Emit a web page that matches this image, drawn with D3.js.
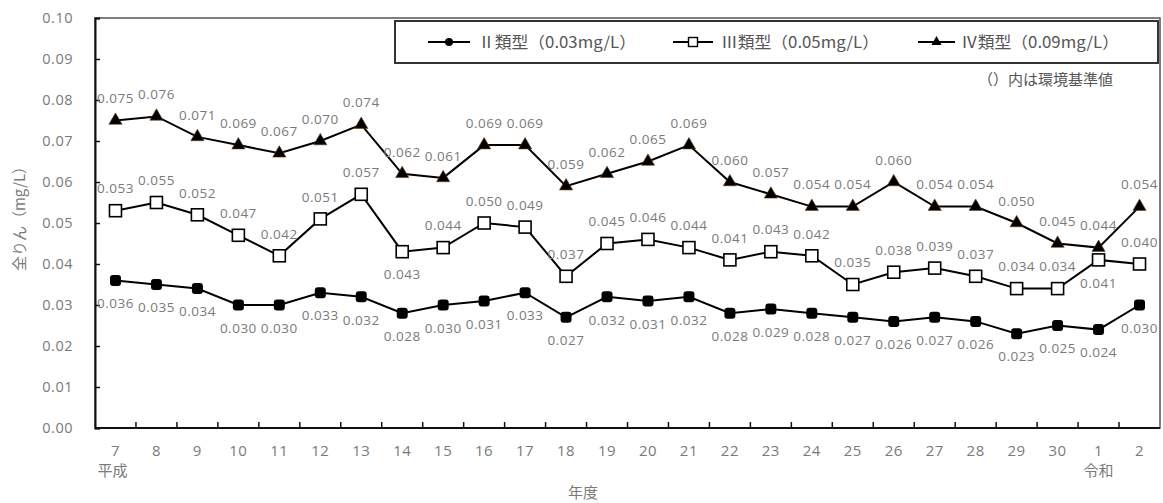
<!DOCTYPE html>
<html>
<head>
<meta charset="utf-8">
<script src="https://cdn.jsdelivr.net/npm/d3@7"></script>
<style>
  body { margin: 0; background: #fff; }
  text { font-family: "Noto Sans CJK JP", "Noto Sans", sans-serif; }
  .num { font-family: "Open Sans", "Noto Sans", sans-serif; letter-spacing: 0.5px; }
</style>
</head>
<body>
<div id="chart"></div>
<script>
// 年度 (平成7 ... 平成30, 令和1, 2)
var years = ["7","8","9","10","11","12","13","14","15","16","17","18","19","20",
             "21","22","23","24","25","26","27","28","29","30","1","2"];

var typeII  = [0.036,0.035,0.034,0.030,0.030,0.033,0.032,0.028,0.030,0.031,0.033,0.027,0.032,
               0.031,0.032,0.028,0.029,0.028,0.027,0.026,0.027,0.026,0.023,0.025,0.024,0.030];
var typeIII = [0.053,0.055,0.052,0.047,0.042,0.051,0.057,0.043,0.044,0.050,0.049,0.037,0.045,
               0.046,0.044,0.041,0.043,0.042,0.035,0.038,0.039,0.037,0.034,0.034,0.041,0.040];
var typeIV  = [0.075,0.076,0.071,0.069,0.067,0.070,0.074,0.062,0.061,0.069,0.069,0.059,0.062,
               0.065,0.069,0.060,0.057,0.054,0.054,0.060,0.054,0.054,0.050,0.045,0.044,0.054];

var seriesNames = ["Ⅱ類型（0.03mg/L）", "Ⅲ類型（0.05mg/L）", "Ⅳ類型（0.09mg/L）"];
var yTicks = [0, 0.01, 0.02, 0.03, 0.04, 0.05, 0.06, 0.07, 0.08, 0.09, 0.10];

const W = 1163, H = 503;
const plot = { left: 95, right: 1160, top: 18, bottom: 428 };

var svg = d3.select("#chart").append("svg")
    .attr("width", W)
    .attr("height", H);

var x = d3.scalePoint()
    .domain(years)
    .range([plot.left, plot.right])
    .padding(0.5);

var y = d3.scaleLinear()
    .domain([0, 0.10])
    .range([plot.bottom, plot.top]);

var step = x.step();
var textGrey = "#7a7a7a";

// plot frame
svg.append("rect")
    .attr("x", plot.left).attr("y", plot.top)
    .attr("width", plot.right - plot.left)
    .attr("height", plot.bottom - plot.top)
    .attr("fill", "none")
    .attr("stroke", "#555")
    .attr("stroke-width", 1.5);

// y axis (ticks pointing inward)
var yAxis = svg.append("g")
    .attr("transform", `translate(${plot.left},0)`)
    .call(d3.axisRight(y).tickValues(yTicks).tickSize(5).tickFormat(""));
yAxis.select(".domain").attr("stroke", "#111").attr("stroke-width", 2);
yAxis.selectAll(".tick line").attr("stroke", "#111").attr("stroke-width", 1.5);

svg.append("g").selectAll("text")
    .data(yTicks)
    .enter()
    .append("text")
    .attr("class", "num")
    .attr("x", 73)
    .attr("y", d => y(d))
    .attr("dy", "0.35em")
    .attr("text-anchor", "end")
    .attr("font-size", 14.5)
    .attr("fill", textGrey)
    .text(d => d3.format(".2f")(d));

// x axis: ticks on category boundaries, pointing up
var xAxis = svg.append("g")
    .attr("transform", `translate(0,${plot.bottom})`);
xAxis.append("line")
    .attr("x1", plot.left).attr("x2", plot.right)
    .attr("stroke", "#111").attr("stroke-width", 2);
xAxis.selectAll(".bt")
    .data(years.slice(0, -1))
    .enter()
    .append("line")
    .attr("x1", d => x(d) + step / 2)
    .attr("x2", d => x(d) + step / 2)
    .attr("y1", 0).attr("y2", -6)
    .attr("stroke", "#111").attr("stroke-width", 1.5);

svg.append("g").selectAll("text")
    .data(years)
    .enter()
    .append("text")
    .attr("class", "num")
    .attr("x", d => x(d))
    .attr("y", 451)
    .attr("dy", "0.35em")
    .attr("text-anchor", "middle")
    .attr("font-size", 15)
    .attr("fill", textGrey)
    .text(d => d);

svg.append("text")
    .attr("x", x("7") - 3).attr("y", 471).attr("dy", "0.35em")
    .attr("text-anchor", "middle").attr("font-size", 15).attr("fill", textGrey)
    .text("平成");
svg.append("text")
    .attr("x", x("1")).attr("y", 471).attr("dy", "0.35em")
    .attr("text-anchor", "middle").attr("font-size", 15).attr("fill", textGrey)
    .text("令和");
svg.append("text")
    .attr("x", 583).attr("y", 493).attr("dy", "0.35em")
    .attr("text-anchor", "middle").attr("font-size", 15).attr("fill", textGrey)
    .text("年度");
svg.append("text")
    .attr("transform", "translate(20,215) rotate(-90)")
    .attr("dy", "0.35em")
    .attr("text-anchor", "middle").attr("font-size", 15).attr("fill", textGrey)
    .text("全りん（mg/L）");

// series
var line = d3.line()
    .x((d, i) => x(years[i]))
    .y(d => y(d));

function drawMarker(g, type, cx, cy) {
    if (type === "circle") {
        g.append("rect").attr("x", cx - 5.5).attr("y", cy - 5.5)
            .attr("width", 11).attr("height", 11).attr("rx", 3)
            .attr("fill", "#000");
    } else if (type === "square") {
        g.append("rect").attr("x", cx - 6).attr("y", cy - 6)
            .attr("width", 12).attr("height", 12)
            .attr("fill", "#fff").attr("stroke", "#000").attr("stroke-width", 1.6);
    } else {
        g.append("path")
            .attr("transform", `translate(${cx},${cy})`)
            .attr("d", d3.symbol().type(d3.symbolTriangle).size(75)())
            .attr("fill", "#000").attr("stroke", "#6b3a10").attr("stroke-width", 0.6);
    }
}

var series = [
    { values: typeII,  marker: "circle",   below: () => true },
    { values: typeIII, marker: "square",   below: (i) => i === 7 || i === 24 },
    { values: typeIV,  marker: "triangle", below: () => false }
];

series.forEach(function(s) {
    var g = svg.append("g");
    g.append("path")
        .attr("d", line(s.values))
        .attr("fill", "none")
        .attr("stroke", "#000")
        .attr("stroke-width", 2);
    s.values.forEach(function(v, i) {
        drawMarker(g, s.marker, x(years[i]), y(v));
    });
    g.selectAll(".lbl")
        .data(s.values)
        .enter()
        .append("text")
        .attr("class", "num")
        .attr("x", (d, i) => x(years[i]))
        .attr("y", (d, i) => y(d) + (s.below(i) ? 23 : -22))
        .attr("dy", "0.35em")
        .attr("text-anchor", "middle")
        .attr("font-size", 13.5)
        .attr("fill", textGrey)
        .text(d => d3.format(".3f")(d));
});

// legend
var legend = svg.append("g");
legend.append("rect")
    .attr("x", 395).attr("y", 21)
    .attr("width", 763).attr("height", 42)
    .attr("fill", "#fff")
    .attr("stroke", "#333")
    .attr("stroke-width", 2);

var legendItems = [
    { x1: 428, x2: 470, tx: 478, marker: "circle" },
    { x1: 673, x2: 713, tx: 721, marker: "square" },
    { x1: 918, x2: 955, tx: 961, marker: "triangle" }
];
legendItems.forEach(function(it, i) {
    legend.append("line")
        .attr("x1", it.x1).attr("x2", it.x2)
        .attr("y1", 42).attr("y2", 42)
        .attr("stroke", "#000").attr("stroke-width", 1.8);
    var mg = legend.append("g");
    var cx = (it.x1 + it.x2) / 2;
    if (it.marker === "circle") {
        mg.append("circle").attr("cx", cx).attr("cy", 42).attr("r", 4).attr("fill", "#000");
    } else if (it.marker === "square") {
        mg.append("rect").attr("x", cx - 4.5).attr("y", 37.5).attr("width", 9).attr("height", 9)
            .attr("fill", "#fff").attr("stroke", "#000").attr("stroke-width", 1.4);
    } else {
        mg.append("path").attr("transform", `translate(${cx},42)`)
            .attr("d", d3.symbol().type(d3.symbolTriangle).size(45)()).attr("fill", "#000");
    }
    legend.append("text")
        .attr("x", it.tx).attr("y", 42).attr("dy", "0.35em")
        .attr("font-size", 16).attr("fill", "#555")
        .attr("textLength", 158)
        .attr("lengthAdjust", "spacingAndGlyphs")
        .text(seriesNames[i]);
});

svg.append("text")
    .attr("x", 1113).attr("y", 80).attr("dy", "0.35em")
    .attr("text-anchor", "end").attr("font-size", 15).attr("fill", "#555")
    .text("（）内は環境基準値");
</script>
</body>
</html>
